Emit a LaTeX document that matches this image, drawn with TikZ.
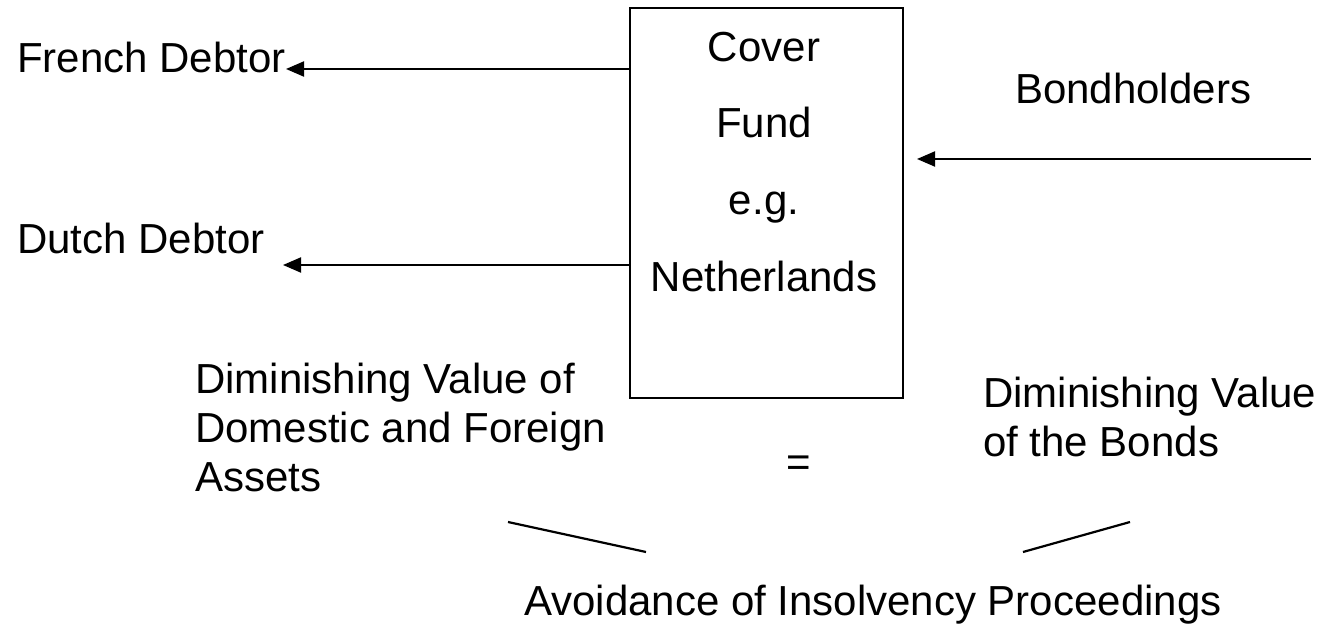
\documentclass[tikz,border=0pt]{standalone}
\usepackage{fontspec}
\setmainfont{Liberation Sans}
\usetikzlibrary{arrows.meta}

\begin{document}
\begin{tikzpicture}[
  x=1pt, y=-1pt,
  txt/.style={inner sep=0pt, anchor=base west, font=\fontsize{42}{49}\selectfont},
  fundline/.style={inner sep=0pt, anchor=base, font=\fontsize{42}{49}\selectfont},
  multi/.style={txt, align=left},
  arr/.style={line width=2pt, -{Triangle[length=18pt,width=15pt]}},
  plain/.style={line width=2.2pt},
  fundbox/.style={draw, line width=2.4pt, inner sep=0pt}
]
\useasboundingbox (0,0) rectangle (1341,628);

% cover fund box with its four lines of text
\node[fundbox, minimum width=273pt, minimum height=390pt] (fund) at (766.5,203) {};
\node[fundline] (cover) at (764,62)  {Cover};
\node[fundline] (fundword) at (764,138) {Fund};
\node[fundline] (eg)    at (764,215) {e.g.};
\node[fundline] (nl)    at (764,292) {Netherlands};

% debtors and bondholders
\node[txt] (french) at (17,73)   {French Debtor};
\node[txt] (dutch)  at (17,254)  {Dutch Debtor};
\node[txt] (bond)   at (1015,104) {Bondholders};

% arrow end points
\coordinate (frenchtip) at (286,69);
\coordinate (dutchtip)  at (283,265);
\coordinate (bondtail)  at (1311,159);
\coordinate (bondtip)   at (917,159);

\draw[arr] (fund.west |- frenchtip) -- (frenchtip);
\draw[arr] (fund.west |- dutchtip) -- (dutchtip);
\draw[arr] (bondtail) -- (bondtip);

% lower statements (anchored on the baseline of their last line)
\node[multi] (assets) at (195,491) {Diminishing Value of\\Domestic and Foreign\\Assets};
\node[multi] (bonds)  at (983,456) {Diminishing Value\\of the Bonds};
\node[txt] (equals) at (786,476) {=};
\node[txt] (avoid)  at (524,615) {Avoidance of Insolvency Proceedings};

% converging strokes towards the conclusion
\coordinate (l1a) at (508,522);
\coordinate (l1b) at (646,552);
\coordinate (l2a) at (1023,552);
\coordinate (l2b) at (1130,522);
\draw[plain] (l1a) -- (l1b);
\draw[plain] (l2a) -- (l2b);
\end{tikzpicture}
\end{document}
